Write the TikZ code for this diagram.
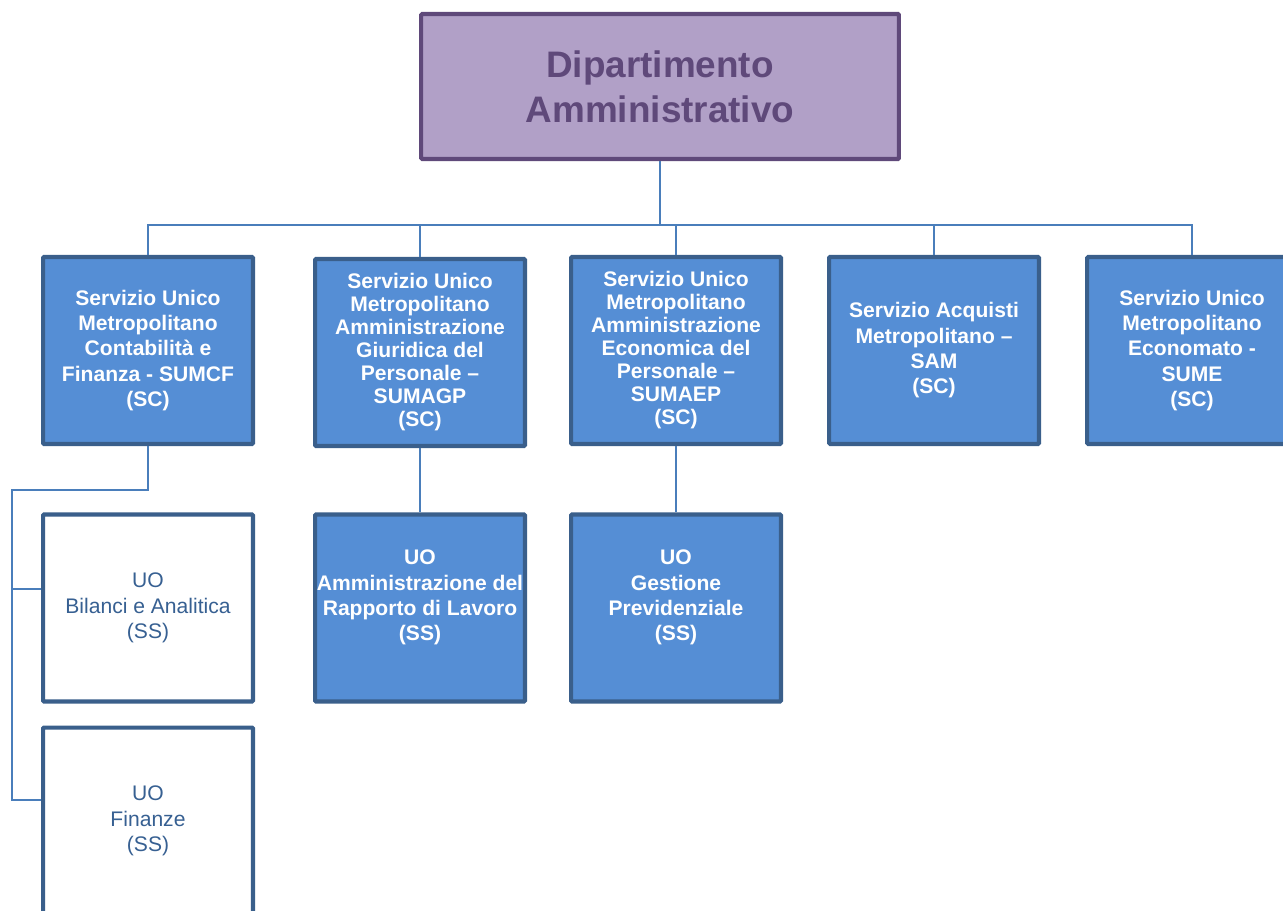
\documentclass[tikz,border=0pt]{standalone}
\usepackage{fontspec}
\setmainfont{Liberation Sans}
\usepackage{xcolor}
\usepackage{tikz}
\usetikzlibrary{positioning}

\definecolor{dipfill}{HTML}{B1A0C7}
\definecolor{dipline}{HTML}{5F497A}
\definecolor{servfill}{HTML}{558ED5}
\definecolor{servline}{HTML}{3A5F8B}
\definecolor{linkcol}{HTML}{4A7EBB}
\definecolor{uotext}{HTML}{376092}

\begin{document}
\begin{tikzpicture}[x=0.02cm, y=-0.02cm,
    dip/.style={rectangle, draw=dipline, fill=dipfill, line width=2.3pt, rounded corners=0.6pt,
        minimum width=9.56cm, minimum height=2.9cm, align=center, text=dipline,
        font=\fontsize{21}{25.6}\selectfont\bfseries},
    serv/.style={rectangle, draw=servline, fill=servfill, line width=2.3pt, rounded corners=0.6pt,
        minimum width=4.2cm, minimum height=3.74cm, inner xsep=0.5pt, align=center, text=white,
        font=\fontsize{12}{14.4}\selectfont\bfseries},
    servlong/.style={serv, font=\fontsize{12}{13.1}\selectfont\bfseries},
    uobox/.style={serv, fill=white, text=uotext, font=\fontsize{12}{14.6}\selectfont},
    conn/.style={draw=linkcol, line width=1.1pt}]
    \useasboundingbox (0,0) rectangle (1283,911);

    \node (dip) [dip] at (660,86.5) {Dipartimento\\Amministrativo};

    \node (sumcf) [serv] at (148,350.5) {Servizio Unico\\Metropolitano\\Contabilità e\\Finanza - SUMCF\\(SC)};
    \node (sumagp) [servlong] at (420,352.5) {Servizio Unico\\Metropolitano\\Amministrazione\\Giuridica del\\Personale –\\SUMAGP\\(SC)};
    \node (sumaep) [servlong] at (676,350.5) {Servizio Unico\\Metropolitano\\Amministrazione\\Economica del\\Personale –\\SUMAEP\\(SC)};
    \node (sam) [serv] at (934,350.5) {Servizio Acquisti\\Metropolitano –\\SAM\\(SC)};
    \node (sume) [serv] at (1192,350.5) {Servizio Unico\\Metropolitano\\Economato -\\SUME\\(SC)};

    \node (bilanci) [uobox] at (148,608) {UO\\Bilanci e Analitica\\(SS)};
    \node (finanze) [uobox] at (148,821) {UO\\Finanze\\(SS)};
    \node (rapporto) [serv] at (420,608) {UO\\Amministrazione del\\Rapporto di Lavoro\\(SS)\\ \mbox{}};
    \node (previd) [serv] at (676,608) {UO\\Gestione\\Previdenziale\\(SS)\\ \mbox{}};

    \coordinate (bus) at (660,225);
    \coordinate (spine) at (12,490);

    \draw [conn] (dip.south) -- (bus);
    \draw [conn] (bus) -| (sumcf.north);
    \draw [conn] (bus) -| (sumagp.north);
    \draw [conn] (bus) -| (sumaep.north);
    \draw [conn] (bus) -| (sam.north);
    \draw [conn] (bus) -| (sume.north);

    \draw [conn] (sumcf.south) |- (spine) |- (bilanci.170);
    \draw [conn] (spine) |- (finanze.169);
    \draw [conn] (sumagp.south) -- (rapporto.north);
    \draw [conn] (sumaep.south) -- (previd.north);
\end{tikzpicture}
\end{document}
